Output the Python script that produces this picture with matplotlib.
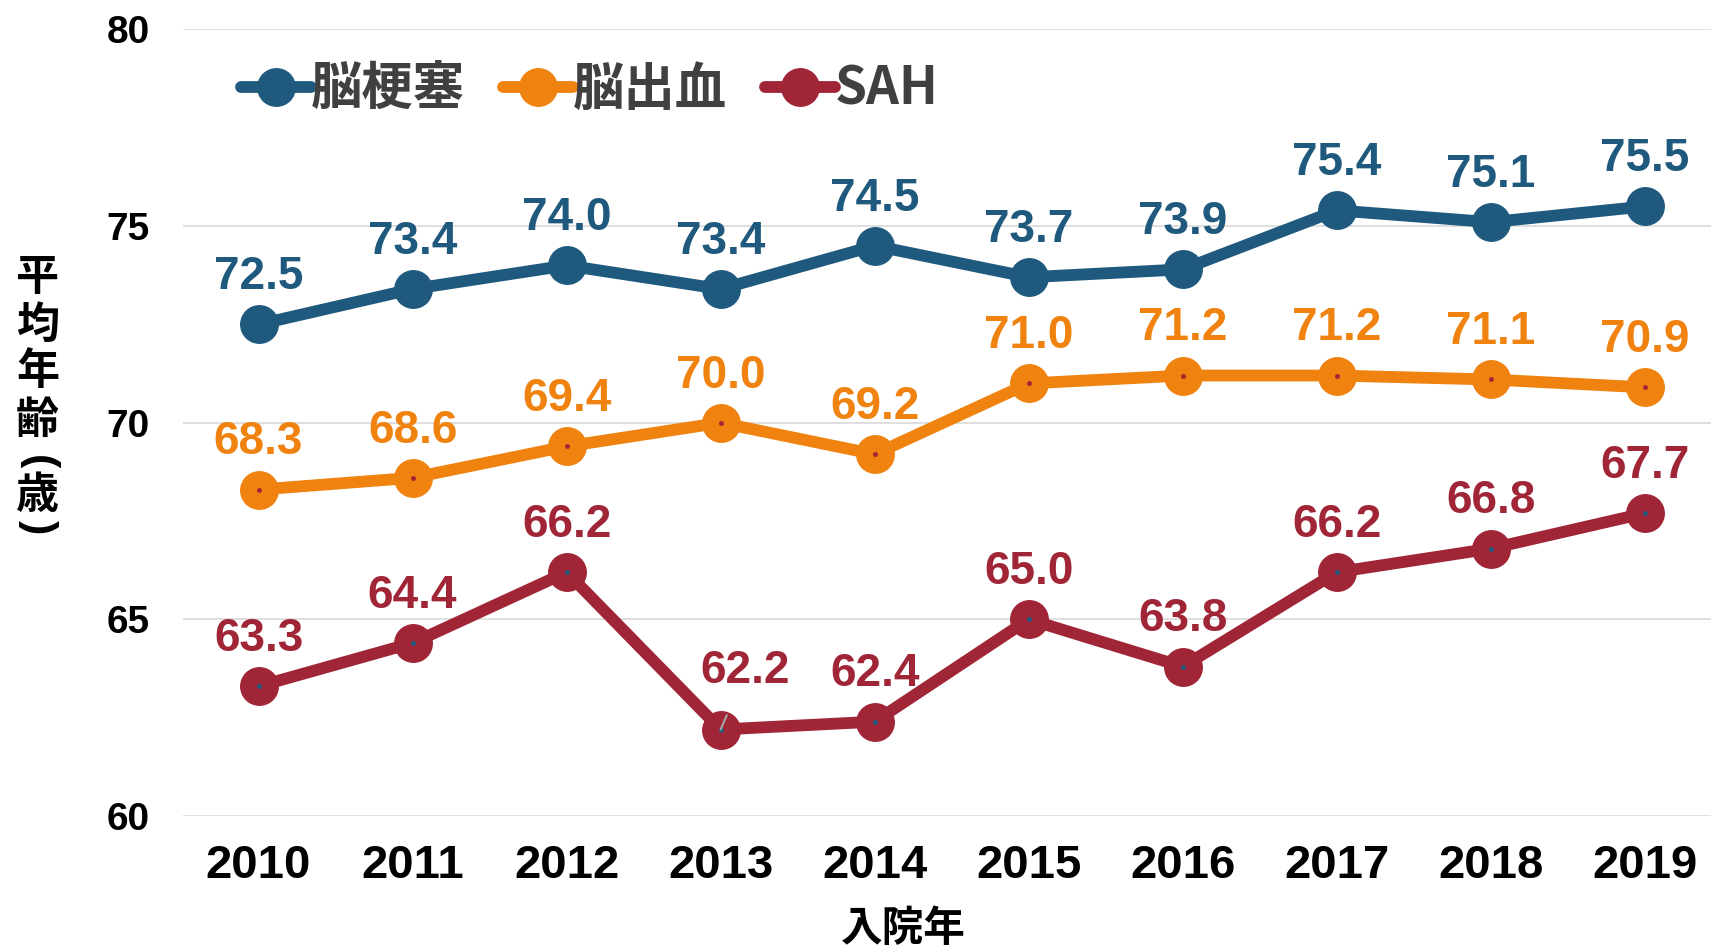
import matplotlib
matplotlib.use("Agg")
import matplotlib.pyplot as plt

plt.rcParams["font.family"] = ["Liberation Sans", "Noto Sans CJK JP", "DejaVu Sans"]

years = ["2010", "2011", "2012", "2013", "2014", "2015", "2016", "2017", "2018", "2019"]
infarction = [72.5, 73.4, 74.0, 73.4, 74.5, 73.7, 73.9, 75.4, 75.1, 75.5]
hemorrhage = [68.3, 68.6, 69.4, 70.0, 69.2, 71.0, 71.2, 71.2, 71.1, 70.9]
sah = [63.3, 64.4, 66.2, 62.2, 62.4, 65.0, 63.8, 66.2, 66.8, 67.7]
series_names = ["脳梗塞", "脳出血", "SAH"]
y_ticks = [60, 65, 70, 75, 80]

blue = "#1F5A7E"
orange = "#F0820F"
red = "#A02537"
jp = ["Noto Sans CJK JP", "DejaVu Sans"]

fig = plt.figure(figsize=(17.11, 9.5), dpi=100)
ax = fig.add_axes([0.107, 0.141, 0.893, 0.828])

x = list(range(len(years)))
series = [(infarction, blue, red), (hemorrhage, orange, red), (sah, red, blue)]
handles = []
for (vals, col, dot), name in zip(series, series_names):
    (h,) = ax.plot(x, vals, color=col, lw=8.5, marker="o", ms=27,
                   solid_capstyle="round", solid_joinstyle="round", label=name, zorder=3)
    handles.append(h)
    if vals is not infarction:
        ax.plot(x, vals, ls="none", marker="o", ms=2.5, color=dot, zorder=4)
    for i, v in enumerate(vals):
        if vals is sah and i == 3:
            ax.annotate(f"{v:.1f}", xy=(i, v), xytext=(18, 42), textcoords="offset points",
                        ha="center", va="center", fontsize=33, fontweight="bold", color=col,
                        arrowprops=dict(arrowstyle="-", color="#A6A6A6", lw=1.5,
                                        shrinkA=15, shrinkB=0), zorder=5)
        else:
            ax.annotate(f"{v:.1f}", xy=(i, v), xytext=(0, 34), textcoords="offset points",
                        ha="center", va="center", fontsize=33, fontweight="bold", color=col,
                        zorder=5)

ax.set_xlim(-0.49, 9.43)
ax.set_ylim(60, 80)
ax.set_yticks(y_ticks)
ax.set_xticks(x)
ax.set_xticklabels(years, fontsize=34, fontweight="bold")
ax.tick_params(axis="y", labelsize=28, length=0, pad=24)
ax.tick_params(axis="x", length=0, pad=20)
for lab in ax.get_yticklabels():
    lab.set_fontweight("bold")
ax.grid(axis="y", color="#D9D9D9", lw=1.2, zorder=0)
for s in ax.spines.values():
    s.set_visible(False)

fig.text(0.528, 0.022, "入院年", ha="center", va="center", fontsize=30,
         fontweight="bold", family=jp)

# vertical y-axis title, one character per line, brackets turned
ylabel_chars = ["平", "均", "年", "齢", "(", "歳", ")"]
ylabel_y = [0.708, 0.658, 0.609, 0.558, 0.514, 0.479, 0.445]
for ch, yy in zip(ylabel_chars, ylabel_y):
    if ch in "()":
        fig.text(0.022, yy, ch, ha="center", va="center", fontsize=31, fontweight="bold",
                 family=["Liberation Sans"], rotation=-90)
    else:
        fig.text(0.022, yy, ch, ha="center", va="center", fontsize=31, fontweight="bold",
                 family=jp)

leg = ax.legend(handles=handles, loc="center left", bbox_to_anchor=(0.126, 0.906),
                bbox_transform=fig.transFigure, ncol=3, frameon=False,
                handlelength=1.35, handletextpad=0.0, columnspacing=0.75, borderpad=0,
                prop={"family": jp, "weight": "bold", "size": 37})
for t in leg.get_texts():
    t.set_color("#404040")

fig.savefig("out.png", dpi=100)
